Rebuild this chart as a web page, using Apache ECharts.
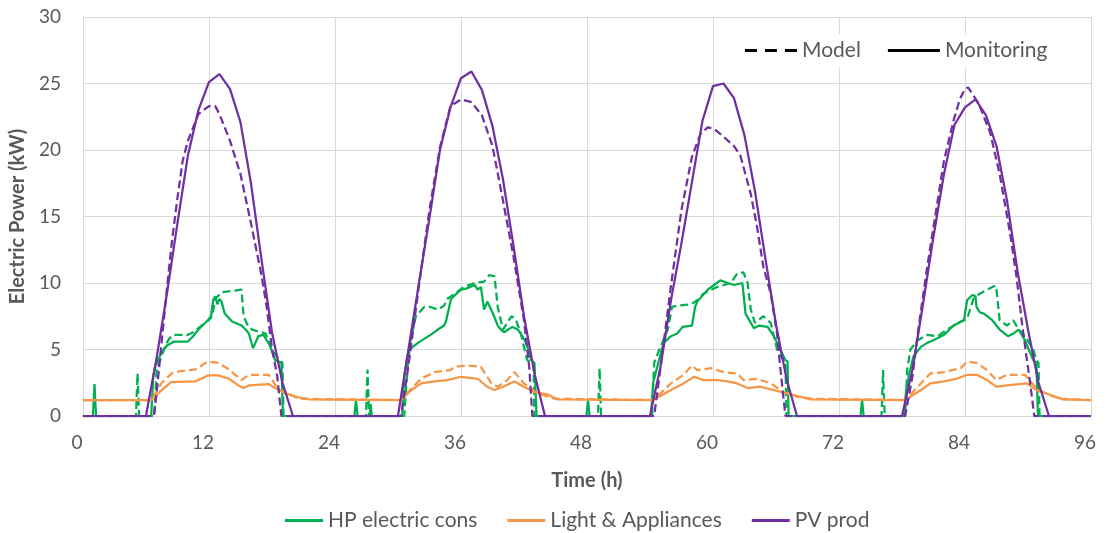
<!DOCTYPE html>
<html>
<head>
<meta charset="utf-8">
<script src="https://cdn.jsdelivr.net/npm/echarts@6/dist/echarts.min.js"></script>
<style>
  html, body { margin: 0; padding: 0; background: #fff; }
  #chart { width: 1112px; height: 533px; }
</style>
</head>
<body>
<div id="chart"></div>
<script>
// [time (h), power (kW)]
var hpMon = [
  [0, 0], [0.95, 0], [1.1, 2.4], [1.25, 0],
  [6.5, 0], [6.7, 3], [6.9, 3.8], [7.5, 4.8], [8, 5.3], [8.7, 5.6], [10, 5.6], [10.5, 6], [11, 6.5], [11.9, 7.2], [12.2, 7.5], [12.4, 8.7], [12.6, 9], [12.8, 8.4], [13, 8.8], [13.2, 8.6], [13.5, 7.7], [14.2, 7.1], [15.1, 6.8], [15.5, 6.5], [15.8, 6.2], [16.2, 5.1], [16.7, 6], [17.2, 6.1], [17.8, 5.3], [18.3, 4.2], [18.9, 4], [19.05, 0],
  [25.85, 0], [26, 1.2], [26.15, 0], [27.3, 0], [27.4, 0.9], [27.5, 0],
  [30.4, 0], [30.6, 3], [30.9, 4.5], [31.1, 5], [31.9, 5.5], [32.5, 5.8], [33.1, 6.1], [33.8, 6.5], [34.4, 6.8], [34.6, 7.2], [35.05, 8.8], [36, 9.5], [36.6, 9.6], [37.3, 9.85], [37.6, 9.5], [37.9, 9.7], [38.2, 8], [38.5, 8.6], [39, 7.8], [39.5, 6.8], [39.8, 6.5], [40.1, 6.3], [40.9, 6.7], [41.4, 6.5], [41.7, 6.2], [42.2, 5.5], [42.7, 4.2], [43, 4], [43.2, 0],
  [47.95, 0], [48.1, 1.2], [48.25, 0],
  [54.1, 0], [54.3, 2.5], [54.7, 3.7], [55.3, 5.5], [56, 6], [56.6, 6.2], [57.1, 6.7], [58, 6.8], [58.3, 8.2], [58.5, 8.6], [59.5, 9.5], [60.1, 9.85], [60.7, 10.2], [61.4, 10], [62, 9.85], [62.8, 10], [63.1, 7.7], [63.9, 6.6], [64.4, 6.8], [65.2, 6.7], [65.8, 6], [66.4, 5], [66.9, 4.2], [67.1, 4.1], [67.2, 0],
  [74.05, 0], [74.2, 1.2], [74.35, 0],
  [78.2, 0], [78.4, 2], [78.7, 3.2], [79.1, 4.5], [79.8, 5.2], [80.4, 5.5], [81, 5.7], [82, 6.1], [82.9, 6.8], [83.9, 7.2], [84.2, 8.7], [84.7, 9.1], [85, 9], [85.1, 8.2], [85.4, 7.8], [85.8, 7.7], [86.6, 7.2], [87.3, 6.5], [88.1, 6], [88.6, 6.2], [89.1, 6.5], [89.7, 5.7], [90.5, 4.2], [90.8, 4], [90.95, 0], [96, 0]
];
var hpMod = [
  [0, 0], [5.05, 0], [5.2, 3.2], [5.35, 0],
  [6.8, 0], [7, 3.2], [7.1, 3.7], [7.5, 4.5], [7.8, 5.2], [8.2, 5.8], [8.6, 6.1], [10, 6.1], [10.5, 6.3], [11.3, 6.8], [12.1, 7.3], [12.3, 7.5], [12.6, 8.8], [13.2, 9.3], [15.1, 9.5], [15.3, 7.5], [15.7, 6.8], [16.1, 6.5], [17.4, 6.2], [18, 5], [18.6, 4.3], [19, 4], [19.1, 0],
  [26.95, 0], [27.1, 3.5], [27.25, 0],
  [30.6, 0], [30.9, 3.5], [31.2, 5.7], [31.7, 7.5], [32.5, 8.2], [33.1, 8.2], [33.8, 8], [34.4, 8.3], [34.7, 8.8], [35.4, 9.2], [36.3, 9.7], [37.3, 10], [38.2, 10.1], [38.7, 10.6], [39.2, 10.5], [39.5, 8.2], [40, 6.5], [40.8, 7.5], [41.2, 7.3], [41.7, 6.2], [42.3, 4.2], [42.9, 4], [43, 0],
  [49.05, 0], [49.2, 3.6], [49.35, 0],
  [54.2, 0], [54.4, 4], [55, 5.2], [55.7, 6.5], [56.1, 8.2], [56.6, 8.3], [57.9, 8.4], [58.5, 8.7], [59.1, 9.2], [60.4, 9.7], [61.7, 10], [62.3, 10.7], [62.9, 10.8], [63.3, 10], [63.6, 8], [64, 7], [64.8, 7.5], [65.5, 7], [66.1, 5], [66.7, 4.2], [66.9, 4.1], [67, 0],
  [76.05, 0], [76.2, 3.45], [76.35, 0],
  [78.3, 0], [78.5, 3.5], [78.8, 5], [79.5, 5.7], [80.4, 6.1], [81.4, 6], [82.3, 6.5], [83.6, 7.1], [84.2, 7.3], [84.8, 8.8], [85.4, 9.2], [86.1, 9.5], [86.9, 9.8], [87, 9.5], [87.3, 7.2], [88, 6.8], [88.6, 7.2], [89.1, 6.5], [89.7, 6], [90.5, 5], [90.8, 4.2], [91, 4], [91.1, 0], [96, 0]
];
var laMon = [
  [0, 1.2],
  [6.5, 1.2], [7.5, 1.95], [8.4, 2.55], [10.7, 2.6], [11.9, 3.05], [12.9, 3.05], [13.9, 2.8], [14.8, 2.3], [15.3, 2.1], [15.8, 2.3], [17.7, 2.4], [18.3, 2.1], [19.3, 1.7], [20.2, 1.45], [21.5, 1.25],
  [30.3, 1.2], [31.2, 1.9], [32.2, 2.45], [33.5, 2.6], [34.7, 2.7], [36, 2.95], [37.6, 2.8], [38.5, 2.2], [39.2, 1.95], [40, 2.2], [41.1, 2.6], [42, 2.2], [43, 1.8], [44.3, 1.6], [45.2, 1.25],
  [54.3, 1.2], [56, 1.95], [57.2, 2.45], [58.2, 2.95], [59.1, 2.7], [60.4, 2.7], [61.4, 2.6], [62.3, 2.45], [63.3, 2.1], [64.5, 2.2], [65.8, 1.95], [67.1, 1.7], [68.3, 1.45], [69.3, 1.25],
  [78.3, 1.2], [79.8, 1.95], [80.7, 2.45], [82, 2.6], [83.2, 2.8], [84.2, 3.1], [85.1, 3.1], [86.1, 2.7], [87, 2.2], [88, 2.3], [89.9, 2.45], [90.8, 1.95], [92.1, 1.6], [93.3, 1.25], [96, 1.2]
];
var laMod = [
  [0, 1.2],
  [6.5, 1.2], [7.5, 2.5], [8.6, 3.3], [10.7, 3.5], [11.9, 4.1], [12.9, 4], [13.9, 3.5], [15.1, 2.7], [15.8, 3.1], [17.7, 3.1], [18.6, 2], [19.6, 1.7], [20.5, 1.3],
  [30.3, 1.2], [31.2, 2], [32.2, 2.8], [33.5, 3.3], [35, 3.45], [35.4, 3.7], [36.6, 3.8], [37.9, 3.7], [38.9, 2.45], [39.5, 2.2], [40.4, 2.7], [41.1, 3.3], [42, 2.45], [43.3, 1.7], [44.9, 1.3],
  [54.3, 1.2], [56, 2.45], [57.2, 3.1], [58, 3.8], [58.5, 3.45], [59.8, 3.6], [61, 3.3], [62.3, 3.2], [62.9, 2.7], [64.2, 2.8], [65.5, 2.45], [66.7, 1.8], [68, 1.45], [69.3, 1.3],
  [78.3, 1.2], [79.8, 2.45], [80.7, 3.2], [82, 3.3], [83.6, 3.6], [84.2, 4.1], [85.1, 4], [86.1, 3.45], [87, 2.7], [88, 3.1], [89.7, 3.1], [90.8, 2.1], [91.7, 1.7], [93, 1.3], [96, 1.2]
];
var pvMon = [
  [0, 0], [6, 0], [7, 4.3], [8, 9.2], [9, 14.5], [10, 19.6], [11, 23], [12, 25.1], [13, 25.7], [14, 24.6], [15, 22.1], [16, 17.5], [17, 11.8], [18, 6.3], [19, 2.5], [20, 0],
  [30, 0], [31, 5], [32, 10], [33, 14.9], [34, 20], [35, 23.2], [36, 25.4], [37, 25.9], [38, 24.5], [39, 21.8], [40, 17.8], [41, 12.8], [42, 7.5], [43, 3.2], [44, 0],
  [54, 0], [55, 3.7], [56, 8.7], [57, 13], [58, 17.6], [59, 22.2], [60, 24.8], [61, 25], [62, 23.9], [63, 21.1], [64, 16.9], [65, 11.8], [66, 6.9], [67, 2.8], [68, 0],
  [78, 0], [79, 3.5], [80, 8.4], [81, 13.5], [82, 18.2], [83, 21.9], [84, 23.2], [85, 23.8], [86, 22.6], [87, 20.3], [88, 16.2], [89, 10.9], [90, 6.5], [91, 2.5], [92, 0], [96, 0]
];
var pvMod = [
  [0, 0], [6.75, 0], [7, 1.6], [7.5, 5.6], [8, 9.6], [8.5, 13.3], [9, 16.4], [9.5, 19.2], [10, 20.7], [11, 22.7], [12, 23.3], [12.6, 23.3], [13, 22.7], [14, 20.7], [15, 18.2], [16, 14.5], [17, 10.6], [17.5, 8.2], [18, 5.1], [18.5, 3], [18.9, 0],
  [30.3, 0], [31, 3.8], [32, 9.8], [33, 15.5], [34, 20.2], [35, 23.3], [36, 23.8], [37, 23.6], [38, 22.6], [39, 20.3], [40, 16.2], [41, 12], [42, 7.2], [42.5, 3.7], [42.8, 0],
  [54.4, 0], [55, 3.6], [56, 9.8], [57, 15.5], [58, 19.5], [58.8, 21.2], [59.5, 21.7], [60.1, 21.6], [61, 21], [62, 20.3], [62.6, 19.6], [63.6, 16.7], [64.2, 14.2], [64.8, 11.2], [65.5, 9.2], [66.1, 6.2], [66.4, 3.7], [66.9, 0],
  [78.3, 0], [79, 3], [79.5, 6.2], [80.4, 11.2], [81.2, 15.2], [82, 19.2], [82.9, 22.2], [83.5, 23.8], [84, 24.6], [84.3, 24.7], [85.3, 23.5], [86.4, 21.3], [87.3, 18.2], [88.3, 13.7], [88.9, 10.5], [89.5, 6.5], [90.2, 2.5], [90.6, 0], [96, 0]
];

var seriesNames = ['HP electric cons', 'Light & Appliances', 'PV prod'];
var seriesColors = ['#00B050', '#F79646', '#7030A0'];
var textColor = '#595959';
var gridColor = '#D9D9D9';
var font = 'Lato';

function line(name, data, color, dashed) {
    return {
        name: name,
        type: 'line',
        data: data,
        symbol: 'none',
        showSymbol: false,
        lineStyle: {
            color: color,
            width: 2.25,
            type: dashed ? [8, 4] : 'solid'
        },
        itemStyle: { color: color }
    };
}

var chart = echarts.init(document.getElementById('chart'));
chart.setOption({
    animation: false,
    textStyle: { fontFamily: font },
    grid: { left: 81, right: 21, top: 17, bottom: 117 },
    legend: [{
        data: seriesNames,
        left: 280,
        top: 505,
        icon: 'rect',
        itemWidth: 38,
        itemHeight: 3,
        itemGap: 30,
        selectedMode: false,
        textStyle: { color: textColor, fontSize: 21, fontFamily: font }
    }, {
        data: [
            { name: 'Model', icon: 'path://M0,0h12v3h-12z M20,0h12v3h-12z M40,0h12v3h-12z' },
            { name: 'Monitoring', icon: 'rect' }
        ],
        left: 737,
        top: 34,
        itemWidth: 52,
        itemHeight: 3,
        itemGap: 27,
        padding: [6, 8],
        backgroundColor: '#fff',
        selectedMode: false,
        textStyle: { color: textColor, fontSize: 21, fontFamily: font }
    }],
    xAxis: {
        type: 'value',
        min: 0,
        max: 96,
        interval: 12,
        name: 'Time (h)',
        nameLocation: 'middle',
        nameGap: 55,
        nameTextStyle: { color: textColor, fontSize: 20, fontWeight: 'bold', fontFamily: font },
        axisLine: { show: true, lineStyle: { color: gridColor, width: 1 } },
        axisTick: { show: false },
        splitLine: { show: true, lineStyle: { color: gridColor, width: 1 } },
        axisLabel: { color: textColor, fontSize: 19, margin: 17, padding: [0, 12, 0, 0] }
    },
    yAxis: {
        type: 'value',
        min: 0,
        max: 30,
        interval: 5,
        name: 'Electric Power (kW)',
        nameLocation: 'middle',
        nameGap: 54,
        nameTextStyle: { color: textColor, fontSize: 20, fontWeight: 'bold', fontFamily: font },
        axisLine: { show: true, lineStyle: { color: gridColor, width: 1 } },
        axisTick: { show: false },
        splitLine: { show: true, lineStyle: { color: gridColor, width: 1 } },
        axisLabel: { color: textColor, fontSize: 19, margin: 22 }
    },
    series: [
        line(seriesNames[0], hpMon, seriesColors[0], false),
        line(seriesNames[0] + ' (model)', hpMod, seriesColors[0], true),
        line(seriesNames[1], laMon, seriesColors[1], false),
        line(seriesNames[1] + ' (model)', laMod, seriesColors[1], true),
        line(seriesNames[2], pvMon, seriesColors[2], false),
        line(seriesNames[2] + ' (model)', pvMod, seriesColors[2], true),
        {
            name: 'Model', type: 'line', data: [], symbol: 'none',
            lineStyle: { color: '#000', width: 3, type: [12, 8] }, itemStyle: { color: '#000' }
        },
        {
            name: 'Monitoring', type: 'line', data: [], symbol: 'none',
            lineStyle: { color: '#000', width: 3, type: 'solid' }, itemStyle: { color: '#000' }
        }
    ]
});
</script>
</body>
</html>
